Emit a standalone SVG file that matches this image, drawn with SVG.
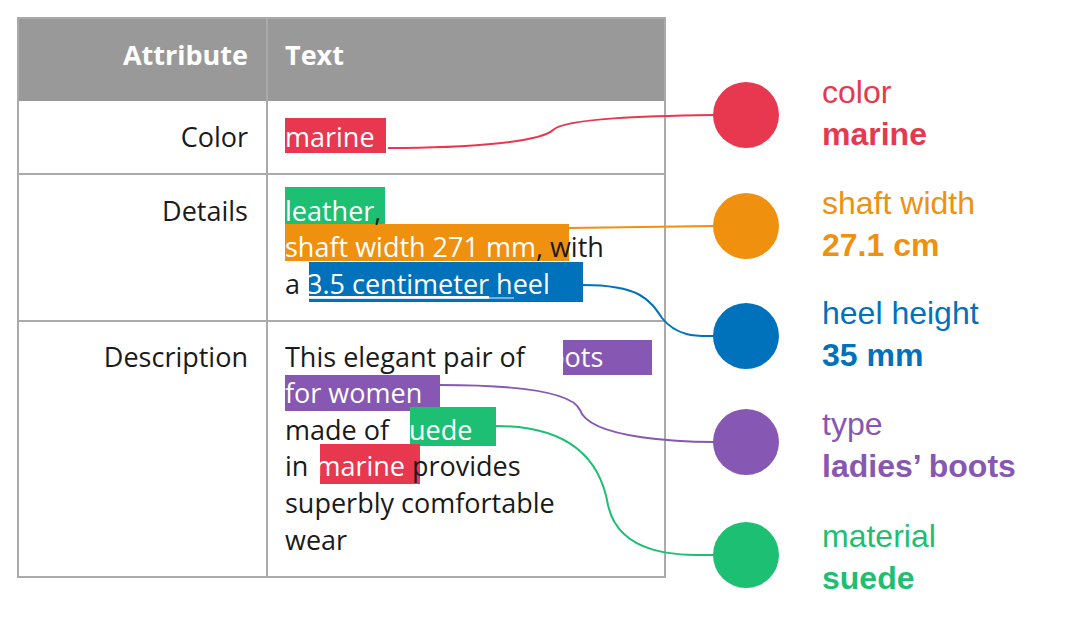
<svg xmlns="http://www.w3.org/2000/svg" width="1070" height="643" viewBox="0 0 1070 643">
<style>
.t{font-family:"Open Sans","DejaVu Sans",sans-serif;font-size:27px;fill:#1a1a1a}
.h{font-family:"Open Sans","DejaVu Sans",sans-serif;font-size:27px;font-weight:bold;fill:#fff}
.w{fill:#fff}
.l{font-family:"Liberation Sans",Arial,sans-serif;font-size:32px}
.b{font-weight:bold}
.c{fill:none;stroke-width:2}
.g{stroke:#aaa;stroke-width:2;fill:none}
</style>
<rect width="1070" height="643" fill="#fff"/>
<g id="table">
<rect x="18" y="18" width="647" height="83" fill="#999"/>
<rect x="18" y="18" width="647" height="559" class="g"/>
<line x1="267" y1="18" x2="267" y2="577" class="g"/>
<line x1="18" y1="174" x2="665" y2="174" class="g"/>
<line x1="18" y1="321" x2="665" y2="321" class="g"/>
<text x="248" y="65" class="h" text-anchor="end">Attribute</text>
<text x="285" y="65" class="h">Text</text>
<text x="248" y="147" class="t" text-anchor="end">Color</text>
<text x="248" y="221" class="t" text-anchor="end">Details</text>
<text x="248" y="367" class="t" text-anchor="end">Description</text>
<rect x="285" y="118" width="101" height="35" fill="#e8384f"/>
<rect x="285" y="187" width="100" height="37" fill="#1dbf73"/>
<rect x="285" y="224" width="284" height="37" fill="#f0900f"/>
<rect x="309" y="262" width="274" height="40" fill="#0072bb"/>
<line x1="310" y1="298" x2="514" y2="298" stroke="#9cc8f0" stroke-width="1.5"/>
<rect x="563" y="340" width="89" height="35" fill="#8657b3"/>
<rect x="285" y="375" width="155" height="36" fill="#8657b3"/>
<rect x="410" y="407" width="86" height="39" fill="#1dbf73"/>
<rect x="320" y="444" width="100" height="40" fill="#e8384f"/>
<text x="285" y="147" class="t"><tspan class="w">marine</tspan></text>
<text x="285" y="221" class="t"><tspan class="w">leather</tspan>,</text>
<text x="285" y="257" class="t"><tspan class="w">shaft width 271 mm</tspan>, with</text>
<text x="285" y="294" class="t">a <tspan class="w" text-decoration="underline">3.5 centimeter</tspan><tspan class="w"> heel</tspan></text>
<text x="285" y="367" class="t">This elegant pair of <tspan class="w">boots</tspan></text>
<text x="285" y="403" class="t"><tspan class="w">for women</tspan></text>
<text x="285" y="440" class="t">made of <tspan class="w">suede</tspan></text>
<text x="285" y="476" class="t">in <tspan class="w">marine</tspan> provides</text>
<text x="285" y="513" class="t">superbly comfortable</text>
<text x="285" y="550" class="t">wear</text>
</g>
<g id="connectors">
<path class="c" stroke="#e8384f" d="M388,148 C470,148 540,142 553,130 C565,118 650,116 714,115"/>
<path class="c" stroke="#f0900f" d="M569,228 L714,226"/>
<path class="c" stroke="#0072bb" d="M583,285 C640,285 650,300 662,318 C678,338 700,336 714,336"/>
<path class="c" stroke="#8657b3" d="M440,385 C520,385 572,392 580,410 C590,440 690,442 714,442"/>
<path class="c" stroke="#1dbf73" d="M496,426 C580,426 602,470 608,505 C620,560 690,555 714,555"/>
</g>
<g id="n-color"><circle cx="746" cy="115" r="33" fill="#e8384f"/><text x="822" y="103" class="l" fill="#e8384f">color</text><text x="822" y="145" class="l b" fill="#e8384f">marine</text></g>
<g id="n-shaft"><circle cx="746" cy="226" r="33" fill="#f0900f"/><text x="822" y="214" class="l" fill="#f0900f">shaft width</text><text x="822" y="256" class="l b" fill="#f0900f">27.1 cm</text></g>
<g id="n-heel"><circle cx="746" cy="336" r="33" fill="#0072bb"/><text x="822" y="324" class="l" fill="#0072bb">heel height</text><text x="822" y="366" class="l b" fill="#0072bb">35 mm</text></g>
<g id="n-type"><circle cx="746" cy="442" r="33" fill="#8657b3"/><text x="822" y="435" class="l" fill="#8657b3">type</text><text x="822" y="477" class="l b" fill="#8657b3">ladies’ boots</text></g>
<g id="n-material"><circle cx="746" cy="555" r="33" fill="#1dbf73"/><text x="822" y="547" class="l" fill="#1dbf73">material</text><text x="822" y="589" class="l b" fill="#1dbf73">suede</text></g>
</svg>
